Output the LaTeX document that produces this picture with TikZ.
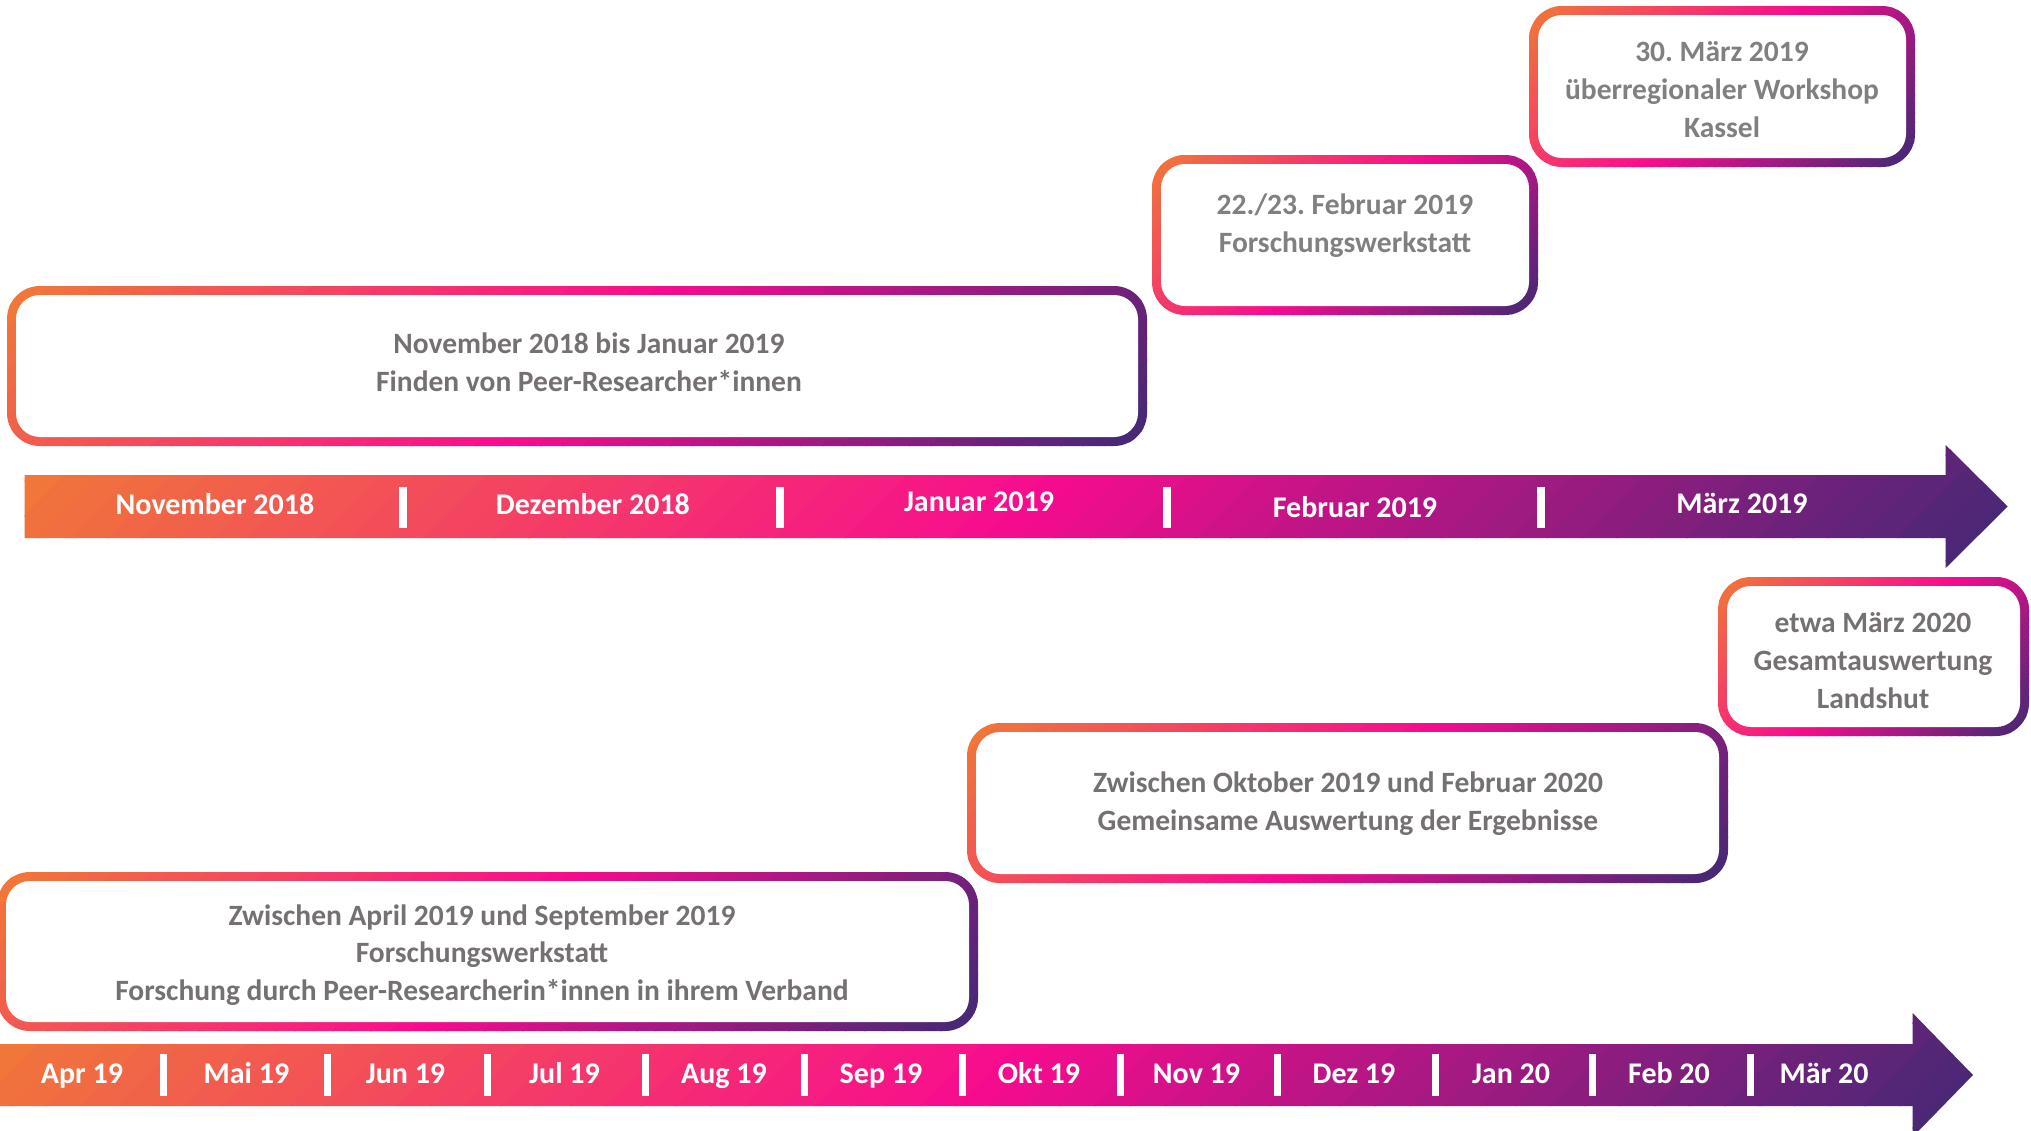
\documentclass[tikz,border=0pt]{standalone}
\usepackage{fontspec}
\setmainfont{Carlito}
\frenchspacing
\definecolor{cO}{RGB}{240,122,54}
\definecolor{cP}{RGB}{247,12,142}
\definecolor{cU}{RGB}{62,42,115}
\definecolor{txtA}{RGB}{128,128,128}
\definecolor{txtB}{RGB}{118,113,113}
% gradient fill (45 degree, orange -> pink -> purple) of a path, bbox x0 y0 x1 y1 in image coords
\newcommand\gradfill[5]{%
  \begin{scope}
    \clip #1;
    \pgfmathsetmacro\gMin{#2+#3}%
    \pgfmathsetmacro\gStep{(#4+#5-\gMin)/60}%
    \foreach \gi in {0,...,59}{%
      \pgfmathsetmacro\gA{\gMin+\gStep*\gi}%
      \pgfmathsetmacro\gB{\gMin+\gStep*(\gi+1)+1.5}%
      \pgfmathsetmacro\gU{(\gi+0.5)/60}%
      \ifdim\gU pt<0.5pt
        \pgfmathtruncatemacro\gP{200*\gU}%
        \colorlet{bandc}{cP!\gP!cO}%
      \else
        \pgfmathtruncatemacro\gP{200*(\gU-0.5)}%
        \colorlet{bandc}{cU!\gP!cP}%
      \fi
      \fill[bandc] (\gA-#3,#3) -- (\gB-#3,#3) -- (\gB-#5,#5) -- (\gA-#5,#5) -- cycle;
    }
  \end{scope}}
\newcommand\gradbox[4]{%
  \gradfill{[rounded corners=33pt] (#1,#2) rectangle (#3,#4)}{#1}{#2}{#3}{#4}%
  \fill[white, rounded corners=24pt] (#1+9,#2+9) rectangle (#3-9,#4-9);}
\tikzset{
  boxtxt/.style={font=\fontsize{29.5}{38}\selectfont\bfseries, anchor=base, inner sep=0pt},
  boxa/.style={boxtxt, text=txtA},
  boxb/.style={boxtxt, text=txtB},
  barlbl/.style={font=\fontsize{30}{36}\selectfont\bfseries, text=white, anchor=base, inner sep=0pt},
  tickmark/.style={fill=white}
}
\begin{document}
\begin{tikzpicture}[x=1pt,y=-1pt]
\useasboundingbox[fill=white] (0,0) rectangle (2031,1130);

% ---- boxes ----
\gradbox{1529}{6}{1915}{167}
\gradbox{1152}{155}{1538}{315}
\gradbox{7}{286}{1147}{446}
\gradbox{1718}{577}{2029}{736}
\gradbox{967}{723}{1728}{883}
\gradbox{-3}{872}{978}{1031}

% ---- top bar ----
\gradfill{(24.6,475) -- (1945.7,475) -- (1945.7,445) -- (2007.7,506.5) -- (1945.7,568) -- (1945.7,538) -- (24.6,538) -- cycle}{24.6}{445}{2007.7}{568}
\foreach \tx in {402.5,779.8,1167,1541.4}{
  \fill[tickmark] (\tx-4,487) rectangle (\tx+4,528);
}
% ---- bottom bar ----
\gradfill{(-1,1044) -- (1912.6,1044) -- (1912.6,1013) -- (1973,1075) -- (1912.6,1137) -- (1912.6,1106) -- (-1,1106) -- cycle}{-1}{1013}{1973}{1137}
\foreach \tx in {163.5,327,487,645.4,804.7,962,1120,1277,1435,1592.6,1750}{
  \fill[tickmark] (\tx-3.5,1054) rectangle (\tx+3.5,1096);
}

% ---- box texts ----
\node[boxa] (a1) at (1722,61) {30. März 2019};
\node[boxa] (a2) at (1722,99) {überregionaler Workshop};
\node[boxa] (a3) at (1722,137) {Kassel};
\node[boxa] (b1) at (1345,214) {22./23. Februar 2019};
\node[boxa] (b2) at (1345,252) {Forschungswerkstatt};
\node[boxb] (c1) at (589,353) {November 2018 bis Januar 2019};
\node[boxb] (c2) at (589,391) {Finden von Peer-Researcher*innen};
\node[boxb] (d1) at (1873,632) {etwa März 2020};
\node[boxb] (d2) at (1873,670) {Gesamtauswertung};
\node[boxb] (d3) at (1873,708) {Landshut};
\node[boxb] (e1) at (1348,792) {Zwischen Oktober 2019 und Februar 2020};
\node[boxb] (e2) at (1348,830.5) {Gemeinsame Auswertung der Ergebnisse};
\node[boxb] (f1) at (482,925) {Zwischen April 2019 und September 2019};
\node[boxb] (f2) at (482,962.5) {Forschungswerkstatt};
\node[boxb] (f3) at (482,1000.5) {Forschung durch Peer-Researcherin*innen in ihrem Verband};

% ---- top bar labels ----
\node[barlbl] (t1) at (215,514) {November 2018};
\node[barlbl] (t2) at (593,514) {Dezember 2018};
\node[barlbl] (t3) at (979,511) {Januar 2019};
\node[barlbl] (t4) at (1355,517) {Februar 2019};
\node[barlbl] (t5) at (1742,513) {März 2019};

% ---- bottom bar labels ----
\node[barlbl] (m1) at (82,1083) {Apr 19};
\node[barlbl] (m2) at (246.5,1083) {Mai 19};
\node[barlbl] (m3) at (405.5,1083) {Jun 19};
\node[barlbl] (m4) at (564.5,1083) {Jul 19};
\node[barlbl] (m5) at (724,1083) {Aug 19};
\node[barlbl] (m6) at (881,1083) {Sep 19};
\node[barlbl] (m7) at (1039,1083) {Okt 19};
\node[barlbl] (m8) at (1196.5,1083) {Nov 19};
\node[barlbl] (m9) at (1354,1083) {Dez 19};
\node[barlbl] (m10) at (1511,1083) {Jan 20};
\node[barlbl] (m11) at (1669,1083) {Feb 20};
\node[barlbl] (m12) at (1824,1083) {Mär 20};
\end{tikzpicture}
\end{document}
